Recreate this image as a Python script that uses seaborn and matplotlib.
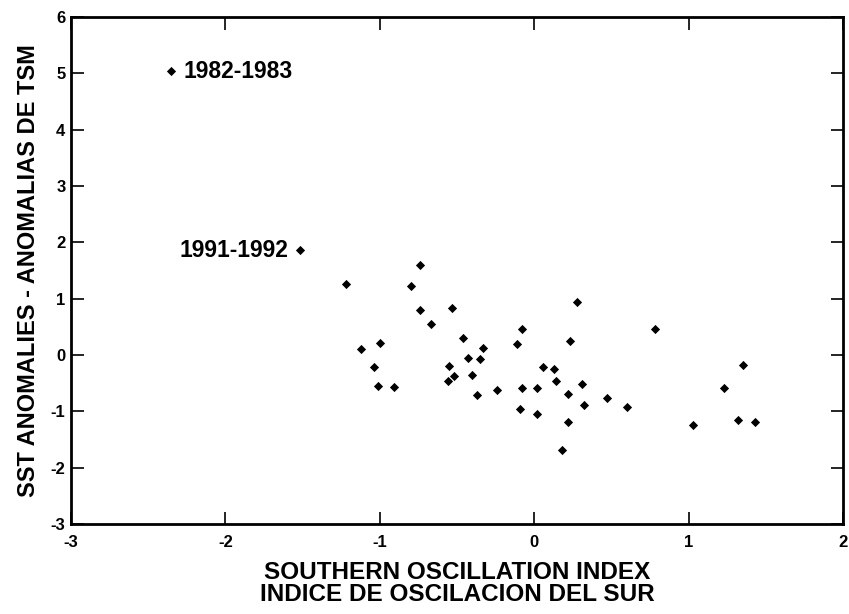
import matplotlib
matplotlib.use("Agg")
import matplotlib.pyplot as plt
import seaborn as sns
import pandas as pd

# Southern Oscillation Index vs SST anomalies
soi = [-2.35, -1.52, -1.22, -0.74, -0.80, -0.74, -0.53, -0.67, -0.46, -1.00,
       -1.12, -0.33, -0.43, -0.35, -1.04, -0.55, -0.52, -0.56, -0.40, -1.01,
       -0.91, -0.37, -0.24, -0.08, -0.11, -0.08, 0.02, 0.06, 0.13, 0.14,
       -0.09, 0.02, 0.22, 0.22, 0.18, 0.23, 0.28, 0.31, 0.32, 0.47,
       0.60, 0.78, 1.03, 1.23, 1.35, 1.32, 1.43]
sst = [5.04, 1.86, 1.26, 1.60, 1.23, 0.80, 0.83, 0.55, 0.31, 0.21,
       0.10, 0.13, -0.05, -0.07, -0.22, -0.20, -0.37, -0.46, -0.36, -0.55,
       -0.57, -0.71, -0.63, 0.47, 0.19, -0.58, -0.59, -0.22, -0.25, -0.47,
       -0.96, -1.05, -0.70, -1.19, -1.68, 0.25, 0.94, -0.52, -0.88, -0.76,
       -0.92, 0.47, -1.25, -0.58, -0.18, -1.16, -1.19]

labelled_years = ["1982-1983", "1991-1992"]
labelled_idx = [0, 1]

x_ticks = [-3, -2, -1, 0, 1, 2]
y_ticks = [-3, -2, -1, 0, 1, 2, 3, 4, 5, 6]

df = pd.DataFrame({"soi": soi, "sst": sst})

sns.set_style("ticks")
plt.rcParams['font.family'] = ['Liberation Sans', 'DejaVu Sans']
plt.rcParams['font.weight'] = 'bold'
plt.rcParams['axes.unicode_minus'] = False
plt.rcParams['text.color'] = 'black'
plt.rcParams['axes.labelcolor'] = 'black'
plt.rcParams['xtick.color'] = 'black'
plt.rcParams['ytick.color'] = 'black'

fig = plt.figure(figsize=(8.49, 6.14), dpi=100)
ax = fig.add_axes([0.0836, 0.1466, 0.9094, 0.8257])

sns.scatterplot(data=df, x="soi", y="sst", marker="D", s=22, color="black",
                edgecolor="black", linewidth=0, ax=ax)

# year labels next to the two outliers
ax.annotate(labelled_years[0], (soi[labelled_idx[0]], sst[labelled_idx[0]]),
            xytext=(9, 0), textcoords="offset points", ha="left", va="center",
            fontsize=16.5, fontweight="bold", color="black")
ax.annotate(labelled_years[1], (soi[labelled_idx[1]], sst[labelled_idx[1]]),
            xytext=(-8, 0), textcoords="offset points", ha="right", va="center",
            fontsize=16.5, fontweight="bold", color="black")

ax.set_xlim(-3, 2)
ax.set_ylim(-3, 6)
ax.set_xticks(x_ticks)
ax.set_yticks(y_ticks)
ax.tick_params(direction="in", length=9, width=1.2, top=True, right=True,
               labelsize=12, color="black", labelcolor="black")
ax.tick_params(axis="x", pad=8)
ax.tick_params(axis="y", pad=4)
for lab in ax.get_xticklabels() + ax.get_yticklabels():
    lab.set_fontweight("bold")

for sp in ax.spines.values():
    sp.set_visible(True)
    sp.set_linewidth(2.0)
    sp.set_color("black")

ax.set_xlabel("SOUTHERN OSCILLATION INDEX\nINDICE DE OSCILACION DEL SUR",
              fontsize=17.5, fontweight="bold", linespacing=0.93, labelpad=8,
              color="black")
ax.set_ylabel("SST ANOMALIES - ANOMALIAS DE TSM", fontsize=17,
              fontweight="bold", labelpad=8, color="black")

fig.savefig("out.png", dpi=100)
